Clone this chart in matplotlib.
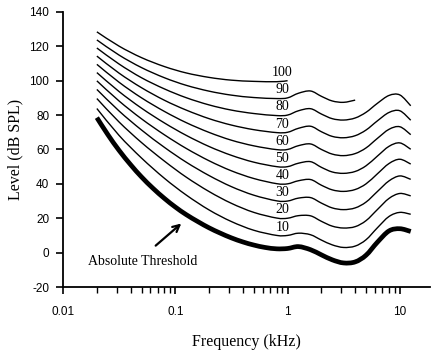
import matplotlib
matplotlib.use("Agg")
import numpy as np
import matplotlib.pyplot as plt
from matplotlib.path import Path
from matplotlib.patches import PathPatch

plt.rcParams['axes.unicode_minus'] = False

# frequencies in kHz
freqs = [0.02, 0.0315, 0.05, 0.08, 0.125, 0.2, 0.315, 0.5, 0.8, 1.0, 1.25, 1.6,
         2.0, 2.5, 3.15, 4.0, 5.0, 6.3, 8.0, 10.0, 12.5]

# equal loudness contours (dB SPL), phon level -> values at freqs
contours = {
    10: [83.8, 68.2, 55.0, 43.2, 33.5, 24.8, 18.1, 13.0, 10.0, 10.0, 11.3, 10.4,
         7.3, 4.5, 3.0, 3.8, 7.5, 14.4, 21.0, 23.4, 22.3],
    20: [89.6, 76.0, 64.0, 53.2, 43.9, 35.5, 28.7, 23.4, 20.1, 20.0, 21.5, 21.4,
         18.2, 15.4, 14.3, 15.1, 18.6, 25.0, 31.5, 34.4, 33.0],
    30: [94.9, 82.4, 71.3, 61.2, 52.6, 44.8, 38.4, 33.4, 30.1, 30.0, 31.7, 32.0,
         28.8, 26.0, 25.0, 26.0, 29.4, 35.5, 41.7, 44.6, 42.6],
    40: [99.9, 88.2, 77.8, 68.5, 60.6, 53.4, 47.6, 43.1, 40.1, 40.0, 41.8, 42.5,
         39.2, 36.5, 35.6, 36.7, 40.0, 45.8, 51.8, 54.3, 51.5],
    50: [104.7, 93.7, 84.0, 75.4, 68.2, 61.7, 56.6, 52.6, 50.0, 50.0, 52.0, 52.9,
         49.6, 46.9, 46.1, 47.2, 50.5, 56.1, 61.8, 63.8, 60.1],
    60: [109.5, 99.1, 90.0, 82.1, 75.6, 69.9, 65.4, 62.1, 59.9, 60.0, 62.2, 63.2,
         60.0, 57.3, 56.4, 57.6, 60.9, 66.4, 71.7, 73.2, 68.6],
    70: [114.3, 104.4, 95.9, 88.6, 82.9, 77.9, 74.2, 71.5, 69.8, 70.0, 72.3, 73.5,
         70.3, 67.6, 66.8, 68.0, 71.3, 76.6, 81.5, 82.5, 77.0],
    80: [119.0, 109.7, 101.7, 95.2, 90.1, 85.9, 82.9, 80.9, 79.7, 80.0, 82.5, 83.7,
         80.6, 77.9, 77.1, 78.3, 81.6, 86.8, 91.4, 91.7, 85.4],
    90: [123.7, 114.9, 107.6, 101.7, 97.3, 93.9, 91.6, 90.2, 89.6, 90.0, 92.7, 94.0,
         90.9, 88.2, 87.4, 88.7],
    100: [128.4, 120.1, 113.4, 108.2, 104.5, 101.9, 100.3, 99.6, 99.4, 100.0],
}

# absolute threshold (dB SPL)
thr_freqs = [0.02, 0.025, 0.0315, 0.04, 0.05, 0.063, 0.08, 0.1, 0.125, 0.16, 0.2,
             0.25, 0.315, 0.4, 0.5, 0.63, 0.8, 1.0, 1.25, 1.6, 2.0, 2.5, 3.15, 4.0,
             5.0, 6.3, 8.0, 10.0, 12.5]
threshold = [78.5, 68.7, 59.5, 51.1, 44.0, 37.5, 31.5, 26.5, 22.1, 17.9, 14.4,
             11.4, 8.6, 6.2, 4.4, 3.0, 2.2, 2.4, 3.5, 1.7, -1.3, -4.2, -6.0, -5.4,
             -1.5, 6.0, 12.6, 13.9, 12.3]

serif = "Liberation Serif"
sans = "Liberation Sans"


def smooth_path(xs, ys):
    # Catmull-Rom curve through the points, drawn as bezier segments (log-x)
    lx = np.log10(xs)
    ys = np.asarray(ys, float)
    pts = np.column_stack([lx, ys])
    n = len(pts)
    verts = [pts[0]]
    codes = [Path.MOVETO]
    for i in range(n - 1):
        p0 = pts[max(i - 1, 0)]
        p1 = pts[i]
        p2 = pts[i + 1]
        p3 = pts[min(i + 2, n - 1)]
        verts += [p1 + (p2 - p0) / 6, p2 - (p3 - p1) / 6, p2]
        codes += [Path.CURVE4] * 3
    verts = np.array(verts)
    verts[:, 0] = 10 ** verts[:, 0]
    return Path(verts, codes)


fig = plt.figure(figsize=(4.32, 3.5), dpi=100)
ax = fig.add_axes([0.146, 0.18, 0.849, 0.786])

for phon, vals in contours.items():
    ax.add_patch(PathPatch(smooth_path(freqs[:len(vals)], vals), fill=False,
                           edgecolor="black", lw=1.0))
    ax.text(0.9, phon + 4.8, str(phon), ha="center", va="center",
            fontsize=10, family=serif)

ax.add_patch(PathPatch(smooth_path(thr_freqs, threshold), fill=False,
                       edgecolor="black", lw=3.4, capstyle="butt"))

ax.annotate("", xy=(0.118, 18), xytext=(0.064, 3),
            arrowprops=dict(arrowstyle="->", lw=1.6, color="black",
                            mutation_scale=12))
ax.text(0.051, -5, "Absolute Threshold", ha="center", va="center",
        fontsize=10, family=serif)

ax.set_xscale("log")
ax.set_xlim(0.01, 18.5)
ax.set_ylim(-20, 140)
ax.set_yticks(range(-20, 141, 20))
ax.set_xticks([0.01, 0.1, 1, 10])
ax.set_xticklabels(["0.01", "0.1", "1", "10"])

for s in ["top", "right"]:
    ax.spines[s].set_visible(False)
for s in ["left", "bottom"]:
    ax.spines[s].set_linewidth(1.3)

ax.tick_params(axis="both", which="major", direction="out", length=5, width=1.2,
               labelsize=8.5, pad=5)
ax.tick_params(axis="x", which="minor", direction="out", length=4, width=1.0)
ax.tick_params(axis="x", which="major", pad=9)
for lab in ax.get_xticklabels() + ax.get_yticklabels():
    lab.set_family(sans)

ax.set_xlabel("Frequency (kHz)", fontsize=11.5, family=serif, labelpad=11)
ax.set_ylabel("Level (dB SPL)", fontsize=11.5, family=serif, labelpad=4)

fig.savefig("out.png", dpi=100)
